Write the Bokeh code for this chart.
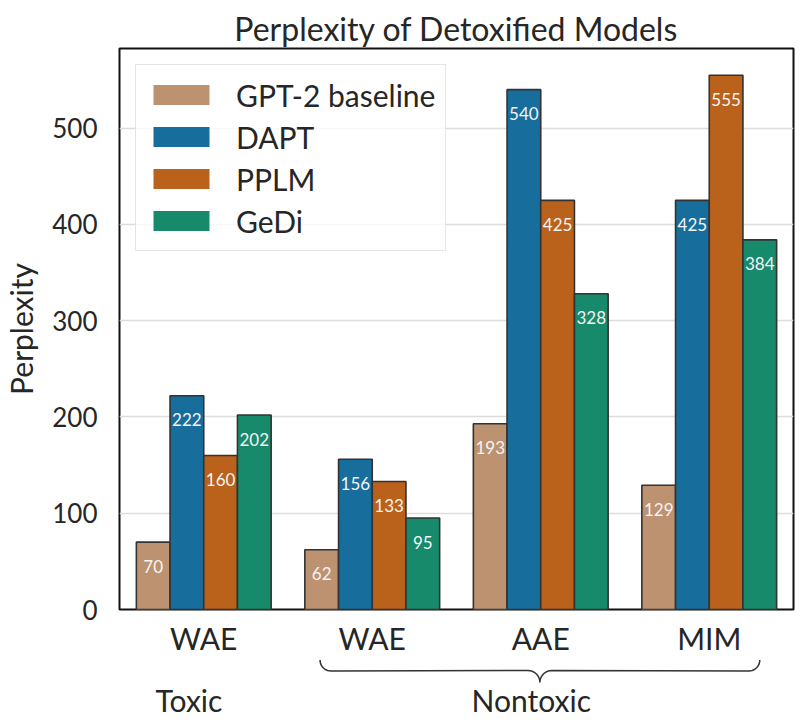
import math
from bokeh.plotting import figure
from bokeh.layouts import column
from bokeh.models import Range1d, FixedTicker, ColumnDataSource, Legend, LegendItem
from bokeh.transform import dodge
from bokeh.core.properties import value
from bokeh.embed import file_html
from bokeh.resources import INLINE

# ---- data ----
categories = ["WAE", "WAE", "AAE", "MIM"]
groups = ["Toxic", "Nontoxic"]
group_x = [-0.088, 1.944]
series_names = ["GPT-2 baseline", "DAPT", "PPLM", "GeDi"]
gpt2_baseline = [70, 62, 193, 129]
dapt = [222, 156, 540, 425]
pplm = [160, 133, 425, 555]
gedi = [202, 95, 328, 384]
series_values = [gpt2_baseline, dapt, pplm, gedi]
colors = ["#bd9270", "#176d9c", "#ba611b", "#168a6a"]

FONT = "Lato"
TXT = "#262626"

W = 795
MB_L, MB_R = 112, 2
MB_T, FRAME_H, MB_B = 48, 563, 47
H1 = MB_T + FRAME_H + MB_B
H2 = 61
Y_MAX = max(max(v) for v in series_values) * 1.05
x_range = Range1d(-0.5, len(categories) - 0.5)
px_x = (W - MB_L - MB_R) / len(categories)

p = figure(width=W, height=H1, output_backend="svg", toolbar_location=None,
           x_range=x_range, y_range=Range1d(0, Y_MAX),
           min_border_left=MB_L, min_border_right=MB_R, min_border_top=MB_T,
           min_border_bottom=MB_B, title="Perplexity of Detoxified Models")

p.title.text_font = FONT
p.title.text_font_size = "32px"
p.title.text_font_style = "normal"
p.title.text_color = TXT
p.title.align = "center"
p.title.standoff = 2
p.title.offset = 0

p.outline_line_color = "#111111"
p.outline_line_width = 2
p.background_fill_color = "white"
p.border_fill_color = "white"

xs = list(range(len(categories)))
offsets = [-0.3, -0.1, 0.1, 0.3]
items = []
for name, vals, col, off in zip(series_names, series_values, colors, offsets):
    src = ColumnDataSource(dict(x=xs, top=vals, lab=[str(v) for v in vals]))
    # borderless copy used as the legend swatch (fully covered by the bar below)
    proxy = p.vbar(x=dodge("x", off, range=x_range), top="top", width=0.2, source=src,
                   fill_color=col, line_color=None)
    items.append(LegendItem(label=name, renderers=[proxy]))
    p.vbar(x=dodge("x", off, range=x_range), top="top", width=0.2, source=src,
           fill_color=col, line_color="#333333", line_width=1.6)
    p.text(x=dodge("x", off, range=x_range), y="top", text="lab", source=src,
           text_align="center", text_baseline="middle", y_offset=24,
           text_font=value(FONT), text_font_size="17px", text_color="#f4f4f4")

legend = Legend(items=items, location="top_left")
legend.label_text_font = FONT
legend.label_text_font_size = "30px"
legend.label_text_color = TXT
legend.glyph_width = 70
legend.glyph_height = 25
legend.label_height = 39
legend.label_standoff = 20
legend.spacing = 3
legend.padding = 10
legend.margin = 16
legend.border_line_color = "#cccccc"
legend.border_line_width = 1.5
legend.background_fill_color = "white"
legend.background_fill_alpha = 0.8
p.add_layout(legend)

# axes
p.yaxis.ticker = FixedTicker(ticks=[0, 100, 200, 300, 400, 500])
p.yaxis.axis_label = "Perplexity"
p.yaxis.axis_label_text_font = FONT
p.yaxis.axis_label_text_font_size = "30px"
p.yaxis.axis_label_text_font_style = "normal"
p.yaxis.axis_label_text_color = TXT
p.yaxis.axis_label_standoff = 10
p.yaxis.major_label_text_font = FONT
p.yaxis.major_label_text_font_size = "26px"
p.yaxis.major_label_text_color = TXT
p.yaxis.major_label_standoff = 16

p.xaxis.ticker = FixedTicker(ticks=xs)
p.xaxis.major_label_overrides = {i: c for i, c in zip(xs, categories)}
p.xaxis.major_label_text_font = FONT
p.xaxis.major_label_text_font_size = "30px"
p.xaxis.major_label_text_color = TXT
p.xaxis.major_label_standoff = 4

for ax in (p.xaxis, p.yaxis):
    ax.axis_line_color = None
    ax.major_tick_line_color = None
    ax.minor_tick_line_color = None

p.xgrid.grid_line_color = None
p.ygrid.grid_line_color = "#dddddd"
p.ygrid.grid_line_width = 1.5

# ---- strip below: brace + group labels (y in pixels below the main frame) ----
p2 = figure(width=W, height=H2, output_backend="svg", toolbar_location=None,
            x_range=x_range, y_range=Range1d(-(MB_B + H2), -MB_B),
            min_border_left=MB_L, min_border_right=MB_R, min_border_top=0,
            min_border_bottom=0)
p2.axis.visible = False
p2.grid.grid_line_color = None
p2.outline_line_color = None
p2.background_fill_color = "white"
p2.border_fill_color = "white"

p2.text(x=group_x, y=[-88, -88], text=groups, text_align="center", text_baseline="middle",
        text_font=value(FONT), text_font_size="30px", text_color=TXT)

# curly brace spanning the Nontoxic categories (1..3)
x0 = 1 - 0.31
x1 = len(categories) - 1 + 0.30
xm = (x0 + x1) / 2
y_end, y_tip = -48.5, -71
r_end = 11
rx_c, ry_c = 12, 12
pts = []
for k in range(0, 11):
    t = math.radians(180 + 9 * k)
    pts.append((x0 + (r_end + r_end * math.cos(t)) / px_x, y_end + r_end * math.sin(t)))
for k in range(0, 11):
    t = math.radians(90 - 9 * k)
    pts.append((xm + (-rx_c + rx_c * math.cos(t)) / px_x, y_tip + ry_c * math.sin(t)))
right = [(2 * xm - x, y) for (x, y) in reversed(pts)]
path = pts + right[1:]
p2.line(x=[q[0] for q in path], y=[q[1] for q in path], line_color="#333333", line_width=1.5)

layout = column(p, p2, spacing=0)
open("out.html", "w").write(file_html(layout, INLINE))
